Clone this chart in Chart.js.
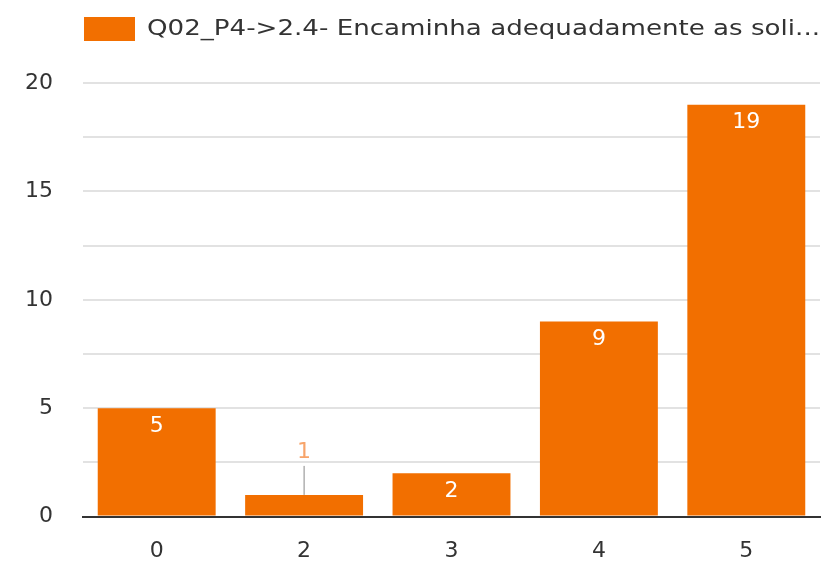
<!DOCTYPE html>
<html>
<head>
<meta charset="utf-8">
<script src="https://cdn.jsdelivr.net/npm/chart.js@4.4.1/dist/chart.umd.min.js"></script>
<style>
  html, body { margin: 0; padding: 0; background: #fff; }
  #wrap { width: 828px; height: 562px; }
</style>
</head>
<body>
<div id="wrap"><canvas id="grafico" width="828" height="562"></canvas></div>
<script>
// Dados do gráfico
const categorias = ['0', '2', '3', '4', '5'];
const valores = [5, 1, 2, 9, 19];
const rotuloSerie = 'Q02_P4->2.4- Encaminha adequadamente as soli...';
const ticksY = [0, 5, 10, 15, 20];

const laranja = '#f26f00';
const fonte = "'DejaVu Sans', 'Noto Sans', sans-serif";

// Legenda desenhada à mão (alinhada ao início da área do gráfico)
const legendaFixa = {
    id: 'legendaFixa',
    afterDraw(chart) {
        const ctx = chart.ctx;
        const x = chart.chartArea.left + 1;
        const texto = chart.data.datasets[0].label;
        ctx.save();
        ctx.fillStyle = laranja;
        ctx.fillRect(x, 17, 51, 24);
        ctx.fillStyle = '#333';
        ctx.font = '22px ' + fonte;
        ctx.textBaseline = 'middle';
        ctx.textAlign = 'left';
        // fonte original é mais larga: estica o texto até a borda direita
        const largura = chart.chartArea.right - (x + 63);
        const sx = largura / ctx.measureText(texto).width;
        ctx.translate(x + 63, 29);
        ctx.scale(sx, 1);
        ctx.fillText(texto, 0, 0);
        ctx.restore();
    }
};

// Rótulos de valor nas barras
const rotulosBarras = {
    id: 'rotulosBarras',
    afterDatasetsDraw(chart) {
        const ctx = chart.ctx;
        const meta = chart.getDatasetMeta(0);
        ctx.save();
        ctx.font = '22px ' + fonte;
        ctx.textAlign = 'center';
        ctx.textBaseline = 'middle';
        meta.data.forEach((bar, i) => {
            const v = chart.data.datasets[0].data[i];
            const altura = bar.base - bar.y;
            if (altura > 36) {
                ctx.fillStyle = '#fff';
                ctx.fillText(v, bar.x, bar.y + 18);
            } else {
                ctx.strokeStyle = '#888';
                ctx.lineWidth = 1;
                ctx.beginPath();
                ctx.moveTo(bar.x, bar.y);
                ctx.lineTo(bar.x, bar.y - 29);
                ctx.stroke();
                ctx.fillStyle = '#f7a46a';
                ctx.fillText(v, bar.x, bar.y - 43);
            }
        });
        ctx.restore();
    }
};

const ctx = document.getElementById('grafico').getContext('2d');
const grafico = new Chart(ctx, {
    type: 'bar',
    data: {
        labels: categorias,
        datasets: [{
            label: rotuloSerie,
            data: valores,
            backgroundColor: laranja,
            borderWidth: 0,
            barPercentage: 0.8,
            categoryPercentage: 1.0
        }]
    },
    options: {
        responsive: false,
        animation: false,
        layout: { padding: { top: 83, left: -5, right: 8, bottom: -23 } },
        plugins: {
            legend: { display: false },
            tooltip: { enabled: false }
        },
        scales: {
            x: {
                grid: { display: false, drawTicks: false },
                border: { display: true, color: '#333', width: 2 },
                ticks: { color: '#333', font: { family: fonte, size: 22 }, padding: 21 }
            },
            y: {
                min: 0,
                max: 20,
                border: { display: false },
                grid: { color: '#e2e2e2', lineWidth: 2, drawTicks: false },
                ticks: {
                    stepSize: 2.5,
                    color: '#333',
                    font: { family: fonte, size: 22 },
                    padding: 30,
                    callback: v => ticksY.includes(v) ? v : ''
                }
            }
        }
    },
    plugins: [legendaFixa, rotulosBarras]
});
</script>
</body>
</html>
